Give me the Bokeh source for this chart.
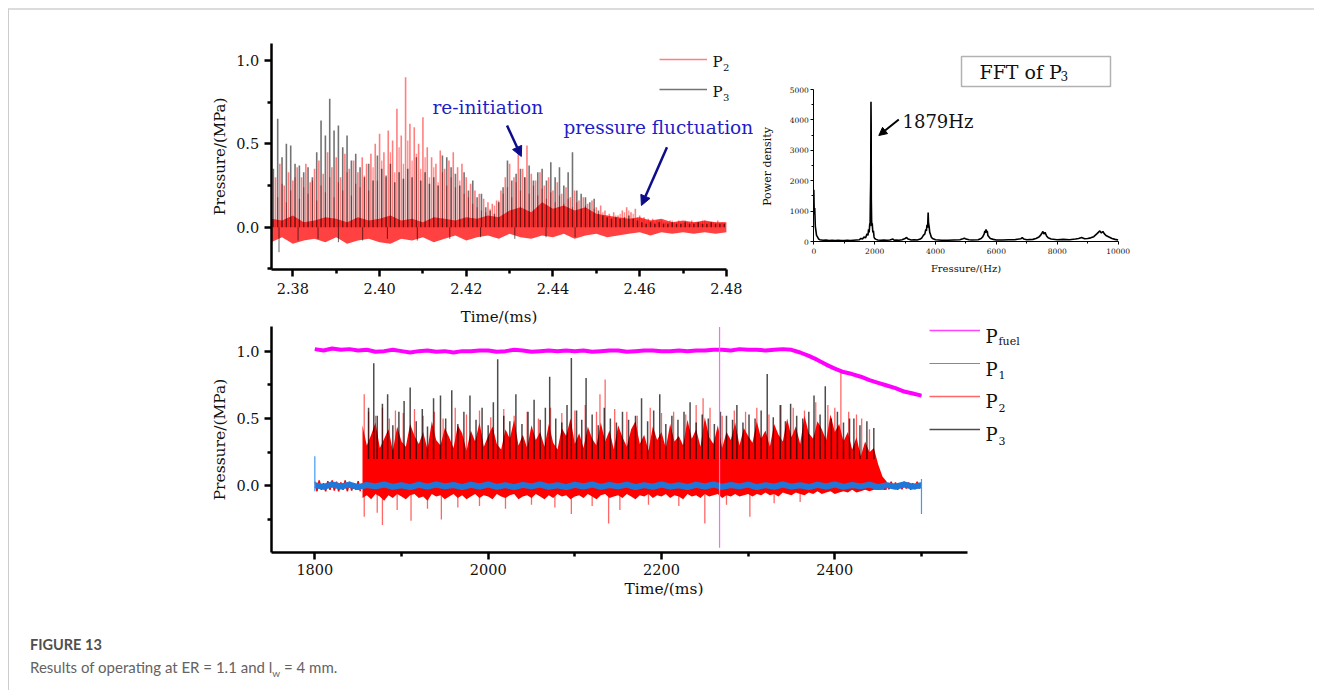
import numpy as np
from bokeh.plotting import figure
from bokeh.models import (FixedTicker, PrintfTickFormatter, Label, Arrow, NormalHead, Legend,
                          LegendItem, BoxAnnotation, Div, Range1d)
from bokeh.layouts import column, row
from bokeh.embed import file_html
from bokeh.resources import INLINE

SERIF = "DejaVu Serif"
BLUE_TXT = "#1e1ec8"
NAVY = "#0d0d8c"

# ---------------- top-left panel: P2 / P3 near the end of the run ----------------
a_p3_t0 = 2.3755
a_p2_t0 = 2.376
a_p2m_t0 = 2.3765
a_step = 0.001
a_p3_peak = [0.35, 0.65, 0.42, 0.50, 0.49, 0.38, 0.37, 0.33, 0.36, 0.30,
             0.45, 0.64, 0.55, 0.77, 0.58, 0.61, 0.48, 0.55, 0.40, 0.44,
             0.36, 0.30, 0.38, 0.28, 0.43, 0.35, 0.31, 0.38, 0.27, 0.33,
             0.29, 0.35, 0.30, 0.42, 0.28, 0.33, 0.26, 0.30, 0.25, 0.43,
             0.42, 0.36, 0.32, 0.25, 0.33, 0.22, 0.28, 0.18, 0.20, 0.12,
             0.10, 0.08, 0.15, 0.24, 0.40, 0.28, 0.32, 0.35, 0.30, 0.37,
             0.28, 0.33, 0.35, 0.28, 0.39, 0.30, 0.36, 0.25, 0.33, 0.45,
             0.22, 0.20, 0.18, 0.15, 0.17, 0.10, 0.07, 0.06, 0.05, 0.06,
             0.05, 0.06, 0.07, 0.05, 0.04, 0.03, 0.02, 0.03, 0.02, 0.03,
             0.02, 0.02, 0.03, 0.02, 0.02, 0.03, 0.02, 0.02, 0.03, 0.02,
             0.02, 0.03, 0.02, 0.02, 0.02]
a_p2_peak = [0.30, 0.38, 0.25, 0.33, 0.28, 0.36, 0.30, 0.38, 0.27, 0.35,
             0.40, 0.32, 0.45, 0.36, 0.42, 0.30, 0.44, 0.35, 0.40, 0.33,
             0.42, 0.38, 0.44, 0.50, 0.56, 0.45, 0.58, 0.52, 0.71, 0.55,
             0.90, 0.62, 0.60, 0.50, 0.66, 0.48, 0.42, 0.38, 0.46, 0.35,
             0.40, 0.45, 0.36, 0.38, 0.30, 0.26, 0.22, 0.20, 0.17, 0.15,
             0.14, 0.16, 0.22, 0.30, 0.38, 0.30, 0.46, 0.35, 0.49, 0.32,
             0.28, 0.33, 0.25, 0.30, 0.22, 0.27, 0.20, 0.24, 0.18, 0.22,
             0.16, 0.18, 0.14, 0.16, 0.12, 0.13, 0.10, 0.08, 0.09, 0.07,
             0.10, 0.12, 0.09, 0.11, 0.07, 0.06, 0.05, 0.05, 0.04, 0.04,
             0.03, 0.04, 0.03, 0.04, 0.03, 0.03, 0.04, 0.03, 0.03, 0.04,
             0.03, 0.03, 0.04, 0.03]
a_p2_minor = [0.18, 0.26, 0.15, 0.22, 0.30, 0.17, 0.24, 0.20, 0.28, 0.16,
              0.25, 0.21, 0.30, 0.18, 0.27, 0.22, 0.33, 0.19, 0.26, 0.24,
              0.31, 0.22, 0.36, 0.28, 0.40, 0.30, 0.45, 0.33, 0.48, 0.38,
              0.52, 0.40, 0.44, 0.35, 0.42, 0.30, 0.36, 0.27, 0.33, 0.25,
              0.30, 0.24, 0.28, 0.20, 0.18, 0.14, 0.12, 0.10, 0.09, 0.11,
              0.13, 0.16, 0.20, 0.24, 0.18, 0.27, 0.22, 0.30, 0.20, 0.25,
              0.19, 0.23, 0.17, 0.21, 0.15, 0.19, 0.14, 0.17, 0.12, 0.15,
              0.11, 0.13, 0.09, 0.11, 0.08, 0.09, 0.07, 0.06, 0.07, 0.08,
              0.09, 0.10, 0.08, 0.06, 0.05, 0.04, 0.04, 0.03, 0.04, 0.03,
              0.03, 0.04, 0.03, 0.03, 0.04, 0.03, 0.03, 0.03, 0.04, 0.03,
              0.03, 0.03, 0.03, 0.03]
a_band_t0 = 2.375
a_band_step = 0.0025
a_band_lo = [-0.09, -0.06, -0.10, -0.08, -0.07, -0.09, -0.06, -0.10, -0.08, -0.07,
             -0.09, -0.10, -0.07, -0.08, -0.06, -0.09, -0.07, -0.05, -0.08, -0.06,
             -0.05, -0.07, -0.04, -0.06, -0.07, -0.05, -0.06, -0.04, -0.07, -0.05,
             -0.04, -0.06, -0.05, -0.04, -0.03, -0.05, -0.03, -0.04, -0.03, -0.04,
             -0.03, -0.04, -0.03]
a_band_hi = [0.05, 0.04, 0.07, 0.03, 0.04, 0.06, 0.05, 0.03, 0.06, 0.04,
             0.05, 0.07, 0.04, 0.05, 0.03, 0.06, 0.05, 0.04, 0.06, 0.05,
             0.07, 0.06, 0.10, 0.12, 0.09, 0.15, 0.11, 0.13, 0.10, 0.12,
             0.08, 0.07, 0.06, 0.05, 0.06, 0.04, 0.05, 0.03, 0.04, 0.03,
             0.04, 0.03, 0.03]
a_p3_dip_t = [2.3768, 2.3812, 2.3858, 2.3905, 2.3961, 2.4018, 2.4087, 2.4162, 2.4233, 2.4312, 2.4384, 2.4451]
a_p3_dip_v = [-0.15, -0.08, -0.07, -0.09, -0.08, -0.07, -0.08, -0.07, -0.06, -0.07, -0.06, -0.06]

# ---------------- top-right panel: FFT of P3 ----------------
fft_freq = [0, 15, 30, 50, 70, 90, 120, 160, 200, 300,
            400, 500, 600, 700, 800, 900, 1000, 1100, 1200, 1300,
            1400, 1500, 1550, 1600, 1650, 1700, 1750, 1780, 1800, 1820,
            1840, 1850, 1860, 1870, 1879, 1885, 1890, 1900, 1910, 1920,
            1940, 1960, 1980, 2000, 2050, 2100, 2200, 2300, 2400, 2500,
            2600, 2650, 2700, 2800, 2900, 3000, 3050, 3100, 3200, 3300,
            3400, 3500, 3550, 3600, 3650, 3680, 3700, 3720, 3740, 3758,
            3770, 3790, 3810, 3830, 3860, 3900, 4000, 4200, 4400, 4600,
            4800, 4900, 4950, 5000, 5100, 5200, 5400, 5500, 5550, 5600,
            5620, 5640, 5660, 5680, 5700, 5720, 5760, 5800, 5900, 6000,
            6200, 6400, 6600, 6800, 6850, 6900, 7000, 7200, 7300, 7400,
            7450, 7500, 7530, 7560, 7600, 7650, 7700, 7800, 8000, 8200,
            8400, 8600, 8700, 8800, 8900, 9000, 9100, 9200, 9300, 9350,
            9400, 9450, 9500, 9550, 9600, 9700, 9800, 9900, 10000]
fft_power = [1700, 900, 1100, 500, 350, 200, 150, 80, 60, 40,
             50, 30, 40, 30, 40, 30, 30, 40, 30, 40,
             50, 60, 100, 80, 150, 120, 250, 200, 400, 300,
             600, 500, 1400, 2000, 4600, 3900, 1400, 700, 500, 600,
             300, 350, 150, 100, 70, 50, 40, 50, 40, 50,
             80, 40, 50, 40, 60, 100, 130, 80, 50, 60,
             50, 80, 120, 200, 250, 400, 350, 550, 450, 950,
             600, 500, 300, 250, 150, 100, 60, 40, 40, 50,
             60, 90, 110, 80, 60, 50, 60, 100, 150, 250,
             350, 280, 400, 300, 350, 200, 150, 100, 70, 50,
             50, 60, 60, 90, 130, 80, 60, 70, 100, 150,
             200, 280, 330, 250, 300, 180, 120, 80, 60, 70,
             60, 80, 100, 130, 90, 100, 120, 160, 250, 300,
             350, 280, 330, 250, 200, 150, 100, 70, 50]

# ---------------- bottom panel: whole run ----------------
c_t0 = 1800
c_step = 10
c_fuel = [1.015, 1.005, 1.02, 1.01, 1.015, 1.005, 1.01, 0.995, 1.0, 1.01,
          1.0, 0.99, 1.0, 1.005, 0.995, 1.0, 0.99, 1.0, 1.0, 1.005,
          1.005, 0.995, 1.0, 1.01, 1.005, 0.995, 1.0, 1.005, 1.0, 1.005,
          1.0, 1.005, 0.995, 1.0, 1.005, 1.005, 0.995, 1.0, 1.005, 1.005,
          1.0, 1.0, 1.005, 1.0, 1.005, 1.005, 1.01, 1.01, 1.005, 1.015,
          1.01, 1.01, 1.005, 1.01, 1.015, 1.01, 0.99, 0.965, 0.935, 0.90,
          0.87, 0.845, 0.83, 0.81, 0.785, 0.765, 0.745, 0.725, 0.70, 0.685,
          0.67]
c_fuel_glitch_t = [2267]
c_fuel_glitch_lo = [-0.46]
c_fuel_glitch_hi = [1.18]
c_p1 = [0.005, -0.008, 0.01, -0.005, 0.008, -0.01, 0.006, -0.004, 0.01, -0.008,
        0.004, -0.01, 0.008, -0.006, 0.01, -0.004, 0.006, -0.01, 0.008, -0.005,
        0.01, -0.008, 0.005, -0.01, 0.007, -0.004, 0.01, -0.007, 0.004, -0.01,
        0.008, -0.005, 0.01, -0.008, 0.006, -0.004, 0.009, -0.01, 0.005, -0.007,
        0.01, -0.006, 0.004, -0.009, 0.008, -0.005, 0.01, -0.008, 0.006, -0.004,
        0.009, -0.01, 0.005, -0.007, 0.01, -0.006, 0.004, -0.009, 0.008, -0.005,
        0.01, -0.008, 0.006, -0.004, 0.009, -0.01, 0.005, -0.007, 0.01, -0.006,
        0.004]
c_p1_edge_t = [1800, 2500]
c_p1_edge_lo = [-0.04, -0.21]
c_p1_edge_hi = [0.22, 0.05]
c_p2_pre_t0 = 1800
c_p2_tail_t0 = 2455
c_fine_step = 2.5
c_p2_pre = [0.03, -0.04, 0.04, -0.03, 0.02, -0.04, 0.035, -0.03, 0.04, -0.035, 0.03,
            -0.04, 0.025, -0.03, 0.04, -0.04, 0.03, -0.035, 0.02, -0.03, 0.035, -0.04]
c_p2_tail = [0.03, -0.03, 0.02, -0.025, 0.03, -0.02, 0.025, -0.03, 0.02, -0.025,
             0.03, -0.02, 0.025, -0.03, 0.02, -0.025, 0.03, -0.02, 0.02]
c_env_t0 = 1855
c_env_step = 5
c_p2_hi = [0.45, 0.30, 0.38, 0.47, 0.28, 0.35, 0.42, 0.26, 0.44, 0.33,
           0.29, 0.46, 0.37, 0.31, 0.40, 0.27, 0.48, 0.34, 0.30, 0.43,
           0.36, 0.28, 0.45, 0.39, 0.26, 0.41, 0.33, 0.47, 0.29, 0.37,
           0.44, 0.31, 0.27, 0.42, 0.35, 0.49, 0.30, 0.38, 0.28, 0.45,
           0.34, 0.40, 0.29, 0.46, 0.32, 0.27, 0.43, 0.37, 0.50, 0.31,
           0.39, 0.28, 0.44, 0.35, 0.30, 0.47, 0.33, 0.41, 0.27, 0.45,
           0.36, 0.29, 0.42, 0.48, 0.31, 0.38, 0.26, 0.44, 0.34, 0.40,
           0.28, 0.46, 0.33, 0.37, 0.30, 0.49, 0.35, 0.42, 0.29, 0.51,
           0.36, 0.31, 0.45, 0.28, 0.40, 0.34, 0.47, 0.30, 0.43, 0.37,
           0.32, 0.48, 0.35, 0.41, 0.29, 0.46, 0.38, 0.33, 0.50, 0.36,
           0.44, 0.31, 0.52, 0.39, 0.35, 0.48, 0.42, 0.34, 0.53, 0.40,
           0.46, 0.33, 0.40, 0.27, 0.36, 0.22, 0.33, 0.25, 0.28, 0.16,
           0.07, 0.03]
c_p2_lo = [-0.09, -0.07, -0.10, -0.06, -0.08, -0.11, -0.07, -0.09, -0.06, -0.08,
           -0.10, -0.07, -0.06, -0.09, -0.08, -0.11, -0.06, -0.08, -0.07, -0.10,
           -0.08, -0.06, -0.09, -0.07, -0.10, -0.08, -0.06, -0.09, -0.07, -0.08,
           -0.10, -0.06, -0.08, -0.09, -0.07, -0.06, -0.10, -0.08, -0.07, -0.09,
           -0.06, -0.08, -0.10, -0.07, -0.09, -0.06, -0.08, -0.07, -0.10, -0.08,
           -0.07, -0.09, -0.06, -0.08, -0.10, -0.07, -0.06, -0.09, -0.08, -0.07,
           -0.09, -0.06, -0.08, -0.10, -0.07, -0.08, -0.06, -0.09, -0.07, -0.08,
           -0.06, -0.09, -0.07, -0.08, -0.10, -0.06, -0.08, -0.07, -0.09, -0.06,
           -0.08, -0.07, -0.06, -0.09, -0.07, -0.08, -0.06, -0.08, -0.07, -0.06,
           -0.08, -0.06, -0.07, -0.05, -0.07, -0.06, -0.08, -0.05, -0.06, -0.07,
           -0.05, -0.06, -0.07, -0.05, -0.06, -0.04, -0.06, -0.05, -0.04, -0.06,
           -0.05, -0.04, -0.05, -0.03, -0.05, -0.04, -0.03, -0.04, -0.03, -0.03,
           -0.03, -0.03]
c_p2_spk_t = [1857, 1862, 1870, 1878, 1886, 1893, 1902, 1915, 1925, 1938,
              1948, 1962, 1975, 1990, 2003, 2018, 2030, 2045, 2058, 2072,
              2085, 2100, 2112, 2125, 2129, 2135, 2146, 2160, 2172, 2187,
              2200, 2214, 2228, 2240, 2248, 2256, 2270, 2284, 2297, 2310,
              2324, 2338, 2352, 2365, 2378, 2392, 2400, 2407, 2416, 2425,
              2431, 2440]
c_p2_spk_v = [0.68, 0.55, 0.52, 0.58, 0.50, 0.56, 0.54, 0.57, 0.52, 0.55,
              0.50, 0.58, 0.53, 0.56, 0.51, 0.57, 0.52, 0.55, 0.50, 0.58,
              0.54, 0.56, 0.60, 0.55, 0.68, 0.79, 0.57, 0.55, 0.52, 0.58,
              0.54, 0.55, 0.53, 0.60, 0.65, 0.58, 0.52, 0.56, 0.55, 0.58,
              0.53, 0.60, 0.58, 0.56, 0.62, 0.60, 0.58, 0.84, 0.55, 0.53,
              0.50, 0.42]
c_p2_dip_t = [1857, 1872, 1878, 1895, 1911, 1930, 1946, 1965, 1990, 2020, 2050, 2077,
              2096, 2120, 2139, 2152, 2185, 2220, 2250, 2275, 2302, 2330, 2360]
c_p2_dip_v = [-0.23, -0.20, -0.29, -0.18, -0.26, -0.17, -0.25, -0.16, -0.15, -0.17, -0.14, -0.16,
              -0.21, -0.15, -0.28, -0.18, -0.14, -0.15, -0.28, -0.14, -0.23, -0.13, -0.12]
c_p3_spk_t = [1862, 1868, 1872, 1878, 1884, 1890, 1897, 1903, 1910, 1917,
              1924, 1930, 1937, 1945, 1951, 1958, 1965, 1972, 1979, 1986,
              1993, 2000, 2006, 2011, 2018, 2025, 2032, 2039, 2046, 2053,
              2060, 2066, 2071, 2078, 2085, 2091, 2096, 2102, 2108, 2113,
              2120, 2127, 2134, 2141, 2148, 2155, 2162, 2170, 2177, 2184,
              2191, 2198, 2205, 2212, 2219, 2226, 2233, 2240, 2247, 2254,
              2261, 2268, 2275, 2282, 2287, 2294, 2301, 2308, 2315, 2322,
              2329, 2337, 2343, 2349, 2356, 2363, 2370, 2376, 2383, 2389,
              2396, 2403, 2410, 2417, 2422, 2429, 2437, 2445]
c_p3_spk_v = [0.58, 0.91, 0.52, 0.61, 0.68, 0.45, 0.55, 0.63, 0.73, 0.48,
              0.57, 0.44, 0.65, 0.67, 0.50, 0.71, 0.46, 0.55, 0.67, 0.49,
              0.58, 0.45, 0.62, 0.94, 0.52, 0.48, 0.68, 0.46, 0.55, 0.64,
              0.49, 0.58, 0.81, 0.50, 0.47, 0.60, 0.95, 0.56, 0.49, 0.80,
              0.53, 0.45, 0.58, 0.50, 0.47, 0.55, 0.49, 0.52, 0.65, 0.48,
              0.56, 0.68, 0.46, 0.52, 0.49, 0.55, 0.62, 0.47, 0.53, 0.50,
              0.46, 0.55, 0.52, 0.49, 0.60, 0.47, 0.53, 0.50, 0.56, 0.83,
              0.51, 0.60, 0.48, 0.61, 0.52, 0.50, 0.55, 0.67, 0.53, 0.74,
              0.50, 0.55, 0.47, 0.50, 0.50, 0.45, 0.48, 0.43]


def grid(t0, step, vals):
    return t0 + step * np.arange(len(vals))


def style(p, lw, tick_size, title_size, major_out, minor_out):
    p.outline_line_color = None
    p.xgrid.visible = False
    p.ygrid.visible = False
    for ax in (p.xaxis[0], p.yaxis[0]):
        ax.axis_line_width = lw
        ax.axis_line_color = "black"
        ax.major_tick_line_width = lw
        ax.minor_tick_line_width = lw
        ax.major_tick_line_color = "black"
        ax.minor_tick_line_color = "black"
        ax.major_tick_in = 0
        ax.minor_tick_in = 0
        ax.major_tick_out = major_out
        ax.minor_tick_out = minor_out
        ax.major_label_text_font = SERIF
        ax.major_label_text_font_size = tick_size
        ax.major_label_text_color = "#111111"
        ax.axis_label_text_font = SERIF
        ax.axis_label_text_font_style = "normal"
        ax.axis_label_text_font_size = title_size
        ax.axis_label_text_color = "#111111"


def put(p, frame, px, py, text, size, color="#111111", angle=0.0, align="left"):
    # (px, py): page position of the text's left edge and vertical middle
    fl, fb = frame
    p.add_layout(Label(x=px - fl, y=fb - py, x_units="screen", y_units="screen", text=text,
                       text_font=SERIF, text_font_size=size, text_color=color, angle=angle,
                       text_baseline="middle", text_align=align))


# ---- page geometry (layout is offset by an 8px margin, plus 1px/2px frame lines) ----
ROW_TOP, ROW_BOT = 10, 325
A_LEFT, A_RIGHT = 9, 780
B_LEFT, B_RIGHT = 780, 1314
A_XPX, A_XV, A_XS = 270.7, 2.375, 4335.0
A_YPX, A_YS = 226.7, 166.7
A_AXIS_BOTTOM_PX, A_AXIS_TOP_PX = 269.0, 43.0
B_XPX, B_XS = 813.3, 0.03043
B_YPX, B_YS = 241.0, 0.0304

FA = (A_LEFT, ROW_BOT)
FB = (B_LEFT, ROW_BOT)
FC = (271, 553)

# ======================= panel A =======================
a_xr = Range1d(A_XV - (A_XPX - A_LEFT) / A_XS, A_XV + (A_RIGHT - A_XPX) / A_XS)
a_yr = Range1d(-(ROW_BOT - A_YPX) / A_YS, (A_YPX - ROW_TOP) / A_YS)
pA = figure(width=A_RIGHT - A_LEFT, height=ROW_BOT - ROW_TOP, x_range=a_xr, y_range=a_yr,
            output_backend="svg", toolbar_location=None, min_border=0,
            min_border_left=0, min_border_right=0, min_border_top=0, min_border_bottom=0)
style(pA, 2.5, "14.5px", "15px", 7, 4)
a_ybot = -(A_AXIS_BOTTOM_PX - A_YPX) / A_YS
a_ytop = (A_YPX - A_AXIS_TOP_PX) / A_YS
pA.xaxis.fixed_location = a_ybot
pA.yaxis.fixed_location = A_XV
pA.xaxis.bounds = (A_XV, 2.48)
pA.yaxis.bounds = (a_ybot, a_ytop)
pA.xaxis.ticker = FixedTicker(ticks=[2.38, 2.40, 2.42, 2.44, 2.46, 2.48], minor_ticks=[2.39, 2.41, 2.43, 2.45, 2.47])
pA.xaxis.formatter = PrintfTickFormatter(format="%.2f")
pA.yaxis.ticker = FixedTicker(ticks=[0.0, 0.5, 1.0], minor_ticks=[-0.25, 0.25, 0.75])
pA.yaxis.formatter = PrintfTickFormatter(format="%.1f")
pA.xaxis.axis_label = "Time/(ms)"
pA.yaxis.axis_label = "Pressure/(MPa)"
pA.xaxis.major_label_standoff = 6
pA.yaxis.major_label_standoff = 5
pA.xaxis.axis_label_standoff = 11
pA.yaxis.axis_label_standoff = 4

tb = grid(a_band_t0, a_band_step, a_band_lo)
pA.varea(x=tb, y1=a_band_lo, y2=a_band_hi, fill_color="#ff2020", fill_alpha=0.85)
tm = grid(a_p2m_t0, a_step, a_p2_minor)
pA.segment(x0=tm, y0=np.zeros(len(tm)), x1=tm, y1=a_p2_minor, line_color="#ff0000", line_alpha=0.45, line_width=1.3)
t3 = grid(a_p3_t0, a_step, a_p3_peak)
rA3 = pA.segment(x0=t3, y0=np.zeros(len(t3)), x1=t3, y1=a_p3_peak, line_color="black", line_alpha=0.55, line_width=1.6)
pA.segment(x0=a_p3_dip_t, y0=np.zeros(len(a_p3_dip_t)), x1=a_p3_dip_t, y1=a_p3_dip_v, line_color="black", line_alpha=0.6, line_width=1)
t2 = grid(a_p2_t0, a_step, a_p2_peak)
rA2 = pA.segment(x0=t2, y0=np.zeros(len(t2)), x1=t2, y1=a_p2_peak, line_color="#ff0000", line_alpha=0.5, line_width=1.6)

legA = Legend(items=[LegendItem(label=" ", renderers=[rA2]), LegendItem(label=" ", renderers=[rA3])],
              location=(659 - A_LEFT, ROW_BOT - 99), padding=0, margin=0, spacing=10, glyph_height=20,
              glyph_width=48, label_height=20, label_width=1, label_standoff=0, border_line_color=None,
              background_fill_alpha=0, label_text_font_size="1px")
pA.add_layout(legA)
put(pA, FA, 712, 61, "P", "15px")
put(pA, FA, 722.5, 67, "2", "10px")
put(pA, FA, 712, 91, "P", "15px")
put(pA, FA, 722.5, 97, "3", "10px")
put(pA, FA, 432, 106.5, "re-initiation", "18.5px", BLUE_TXT)
put(pA, FA, 563, 127, "pressure fluctuation", "18.5px", BLUE_TXT)
# y-axis title of the FFT panel (lies left of that panel's area)
put(pA, FA, 767, 166, "Power density", "11px", angle=np.pi / 2, align="center")
pA.add_layout(Arrow(end=NormalHead(size=10, fill_color=NAVY, line_color=NAVY),
                    x_start=2.4294, y_start=0.61, x_end=2.4327, y_end=0.424,
                    line_color=NAVY, line_width=2.5))
pA.add_layout(Arrow(end=NormalHead(size=10, fill_color=NAVY, line_color=NAVY),
                    x_start=2.4663, y_start=0.48, x_end=2.4604, y_end=0.13,
                    line_color=NAVY, line_width=2.5))

# ======================= panel B (FFT) =======================
b_xr = Range1d(-(B_XPX - B_LEFT) / B_XS, (B_RIGHT - B_XPX) / B_XS)
b_yr = Range1d(-(ROW_BOT - B_YPX) / B_YS, (B_YPX - ROW_TOP) / B_YS)
pB = figure(width=B_RIGHT - B_LEFT, height=ROW_BOT - ROW_TOP, x_range=b_xr, y_range=b_yr,
            output_backend="svg", toolbar_location=None, min_border=0,
            min_border_left=0, min_border_right=0, min_border_top=0, min_border_bottom=0)
style(pB, 1, "7.5px", "10px", 3, 2)
pB.xaxis.fixed_location = 0
pB.yaxis.fixed_location = 0
pB.xaxis.bounds = (0, 10000)
pB.yaxis.bounds = (0, 5000)
pB.xaxis.ticker = FixedTicker(ticks=[0, 2000, 4000, 6000, 8000, 10000], minor_ticks=[1000, 3000, 5000, 7000, 9000])
pB.yaxis.ticker = FixedTicker(ticks=[0, 1000, 2000, 3000, 4000, 5000], minor_ticks=[500, 1500, 2500, 3500, 4500])
pB.xaxis.formatter = PrintfTickFormatter(format="%d")
pB.yaxis.formatter = PrintfTickFormatter(format="%d")
pB.xaxis.axis_label = "Fressure/(Hz)"
pB.xaxis.major_label_standoff = 3
pB.yaxis.major_label_standoff = 2
pB.xaxis.axis_label_standoff = 6
pB.line(x=fft_freq, y=fft_power, line_color="black", line_width=1.6)
pB.add_layout(BoxAnnotation(left=4854, right=9750, bottom=5099, top=6086, fill_alpha=0,
                            line_color="black", line_width=1.5))
put(pB, FB, 979, 71, "FFT of P", "19px")
put(pB, FB, 1060, 75, "3", "12px")
put(pB, FB, 902, 120.5, "1879Hz", "18px")
pB.add_layout(Arrow(end=NormalHead(size=8, fill_color="black", line_color="black"),
                    x_start=2793, y_start=4013, x_end=2136, y_end=3487,
                    line_color="black", line_width=2))

# ======================= panel C =======================
pC = figure(width=1057, height=275, x_range=Range1d(1750, 2655.8), y_range=Range1d(-0.495, 1.183),
            output_backend="svg", toolbar_location=None, min_border_left=262, min_border_right=10,
            min_border_top=1, min_border_bottom=47)
style(pC, 2.5, "14.5px", "15.5px", 7, 4)
pC.xaxis.bounds = (1750, 2553)
pC.xaxis.ticker = FixedTicker(ticks=[1800, 2000, 2200, 2400], minor_ticks=[1900, 2100, 2300, 2500])
pC.xaxis.formatter = PrintfTickFormatter(format="%d")
pC.yaxis.ticker = FixedTicker(ticks=[0.0, 0.5, 1.0], minor_ticks=[-0.25, 0.25, 0.75])
pC.yaxis.formatter = PrintfTickFormatter(format="%.1f")
pC.xaxis.axis_label = "Time/(ms)"
pC.yaxis.axis_label = "Pressure/(MPa)"
pC.xaxis.major_label_standoff = 4
pC.yaxis.major_label_standoff = 5
pC.xaxis.axis_label_standoff = 2
pC.yaxis.axis_label_standoff = 4

tf = grid(c_t0, c_step, c_fuel)
rCf = pC.line(x=tf, y=c_fuel, line_color="#ff44ff", line_width=1.4)
pC.line(x=tf, y=c_fuel, line_color="#ff00ff", line_width=4)
pC.line(x=grid(c_p2_pre_t0, c_fine_step, c_p2_pre), y=c_p2_pre, line_color="#ff0000", line_width=1.5)
pC.line(x=grid(c_p2_tail_t0, c_fine_step, c_p2_tail), y=c_p2_tail, line_color="#ff0000", line_width=1.5)
te = grid(c_env_t0, c_env_step, c_p2_hi)
pC.varea(x=te, y1=c_p2_lo, y2=c_p2_hi, fill_color="#ff0000", fill_alpha=1.0)
rC2 = pC.segment(x0=c_p2_spk_t, y0=np.zeros(len(c_p2_spk_t)), x1=c_p2_spk_t, y1=c_p2_spk_v,
                 line_color="#ff0000", line_alpha=0.6, line_width=1.3)
pC.segment(x0=c_p2_dip_t, y0=np.zeros(len(c_p2_dip_t)), x1=c_p2_dip_t, y1=c_p2_dip_v,
           line_color="#ff0000", line_alpha=0.6, line_width=1.3)
rC3 = pC.segment(x0=c_p3_spk_t, y0=np.full(len(c_p3_spk_t), 0.2), x1=c_p3_spk_t, y1=c_p3_spk_v,
                 line_color="black", line_alpha=0.7, line_width=1.5)
pC.line(x=grid(c_t0, c_step, c_p1), y=c_p1, line_color="#1f78d8", line_width=6)
rC1 = pC.segment(x0=c_p1_edge_t, y0=c_p1_edge_lo, x1=c_p1_edge_t, y1=c_p1_edge_hi,
                 line_color="#3d9bf0", line_width=1.2)
pC.segment(x0=c_fuel_glitch_t, y0=c_fuel_glitch_lo, x1=c_fuel_glitch_t, y1=c_fuel_glitch_hi,
           line_color="#ff66ff", line_width=1.2)

legC = Legend(items=[LegendItem(label=" ", renderers=[rCf]), LegendItem(label=" ", renderers=[rC1]),
                     LegendItem(label=" ", renderers=[rC2]), LegendItem(label=" ", renderers=[rC3])],
              location=(658, 113), padding=0, margin=0, spacing=13, glyph_height=20, glyph_width=51,
              label_height=20, label_width=1, label_standoff=0, border_line_color=None,
              background_fill_alpha=0, label_text_font_size="1px")
pC.add_layout(legC)
put(pC, FC, 985, 336.5, "P", "18px")
put(pC, FC, 998, 342, "fuel", "11px")
put(pC, FC, 985, 369.5, "P", "18px")
put(pC, FC, 998, 375.5, "1", "11px")
put(pC, FC, 985, 402, "P", "18px")
put(pC, FC, 998, 408, "2", "11px")
put(pC, FC, 985, 435, "P", "18px")
put(pC, FC, 998, 441, "3", "11px")

# ======================= caption & frame =======================
caption = Div(text=(
    '<div style="font-family: Lato, \'Open Sans\', sans-serif; padding: 29px 0 0 16px;">'
    '<div style="font-weight: 700; font-size: 14.5px; line-height: 22px; color: #4f4f4f;">FIGURE 13</div>'
    '<div style="font-size: 15px; line-height: 22px; color: #636363;">Results of operating at ER = 1.1 and '
    'l<sub style="font-size: 10px;">w</sub> = 4 mm.</div></div>'), width=1000, height=80)

layout = column(row(pA, pB), pC, caption, margin=(8, 0, 0, 8),
                styles={"border-top": "2px solid #dcdcdc", "border-left": "1px solid #cccccc"})

open("out.html", "w").write(file_html(layout, INLINE, title="Figure 13"))
